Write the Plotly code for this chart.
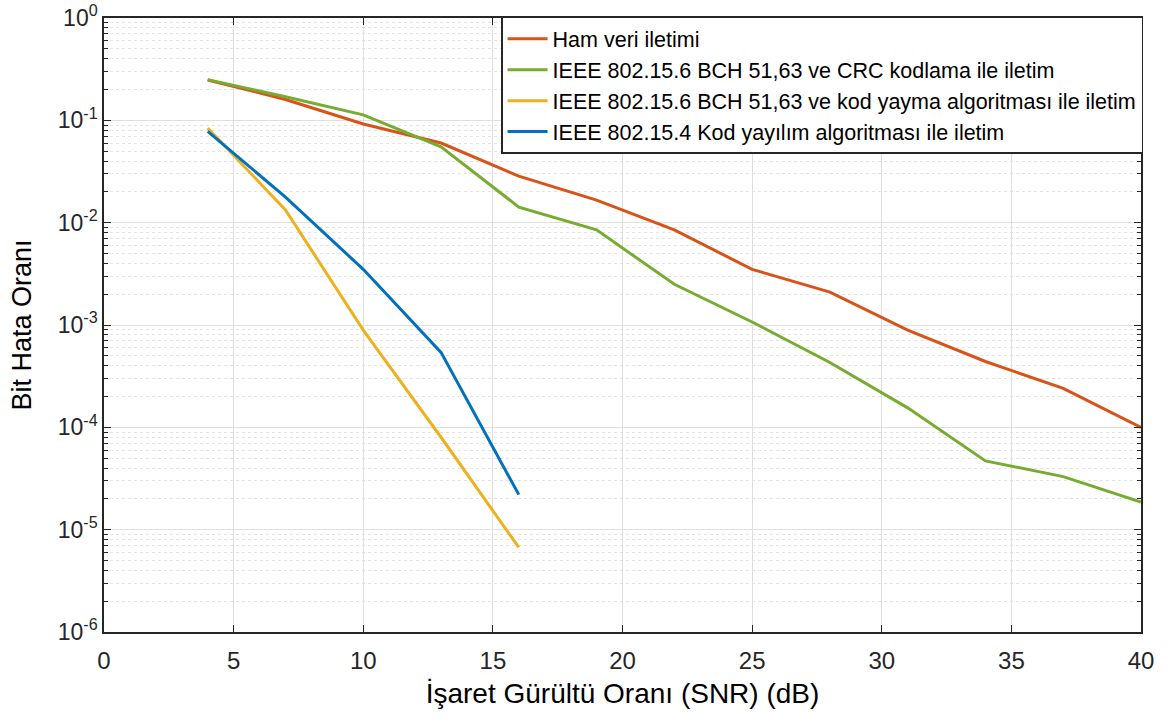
import plotly.graph_objects as go

snr = [4, 7, 10, 13, 16, 19, 22, 25, 28, 31, 34, 37, 40]
snr_short = [4, 7, 10, 13, 16]

ham = [0.248, 0.16, 0.092, 0.06, 0.0285, 0.0166, 0.0085, 0.0035, 0.0021, 0.00089, 0.00044, 0.00024, 0.0001]
bch_crc = [0.25, 0.17, 0.113, 0.055, 0.0142, 0.0085, 0.0025, 0.00107, 0.00043, 0.000155, 4.7e-5, 3.3e-5, 1.86e-5]
bch_kod = [0.084, 0.0133, 0.00089, 8e-5, 6.7e-6]
kod_154 = [0.078, 0.0178, 0.0035, 0.00054, 2.2e-5]

names = [
    "Ham veri iletimi",
    "IEEE 802.15.6 BCH 51,63 ve CRC kodlama ile iletim",
    "IEEE 802.15.6 BCH 51,63 ve kod yayma algoritması ile iletim",
    "IEEE 802.15.4 Kod yayılım algoritması ile iletim",
]
colors = ["#D95319", "#77AC30", "#EDB120", "#0072BD"]

y_tickvals = [1e-6, 1e-5, 1e-4, 1e-3, 1e-2, 1e-1, 1e0]
y_ticktext = ["10<sup>-6</sup>", "10<sup>-5</sup>", "10<sup>-4</sup>", "10<sup>-3</sup>",
              "10<sup>-2</sup>", "10<sup>-1</sup>", "10<sup>0</sup>"]
x_tickvals = [0, 5, 10, 15, 20, 25, 30, 35, 40]

fig = go.Figure()
for i, (xs, ys, nm, c) in enumerate([(snr, ham, names[0], colors[0]),
                                     (snr, bch_crc, names[1], colors[1]),
                                     (snr_short, bch_kod, names[2], colors[2]),
                                     (snr_short, kod_154, names[3], colors[3])]):
    fig.add_trace(go.Scatter(x=xs, y=ys, mode="lines", name=nm,
                             line=dict(color=c, width=3)))

font_family = "Liberation Sans, Arial, Helvetica, sans-serif"

fig.update_layout(
    width=1170, height=724,
    margin=dict(l=104, r=29, t=18, b=92, autoexpand=False),
    paper_bgcolor="white", plot_bgcolor="white",
    font=dict(family=font_family, size=23, color="#262626"),
    showlegend=True,
    legend=dict(
        x=1.002, y=1.002, xanchor="right", yanchor="top",
        bgcolor="white", bordercolor="#262626", borderwidth=1.5,
        font=dict(size=21.5, color="#000000"),
        itemwidth=40,
    ),
    xaxis=dict(
        range=[0, 40], tickvals=x_tickvals, automargin=False,
        showline=True, linecolor="#262626", linewidth=1.5, mirror="ticks",
        ticks="inside", ticklen=7, tickcolor="#262626",
        ticklabelstandoff=6,
        showgrid=True, gridcolor="#e0e0e0", gridwidth=1,
        zeroline=False,
        title=dict(text="İşaret Gürültü Oranı (SNR) (dB)", standoff=11,
                   font=dict(size=28, color="#000000")),
        tickfont=dict(size=24, color="#262626"),
    ),
    yaxis=dict(
        type="log", range=[-6, 0], automargin=False,
        tickvals=y_tickvals, ticktext=y_ticktext,
        showline=True, linecolor="#262626", linewidth=1.5, mirror="ticks",
        ticks="inside", ticklen=7, tickcolor="#262626",
        showgrid=True, gridcolor="#e0e0e0", gridwidth=1,
        zeroline=False,
        minor=dict(ticks="inside", ticklen=4, tickcolor="#262626", dtick="D1",
                   showgrid=True, gridcolor="#e3e3e3", griddash="dot", gridwidth=1),
        title=dict(text="Bit Hata Oranı", standoff=18,
                   font=dict(size=27, color="#000000")),
        tickfont=dict(size=23, color="#262626"),
    ),
)

fig.write_html("out.html")
